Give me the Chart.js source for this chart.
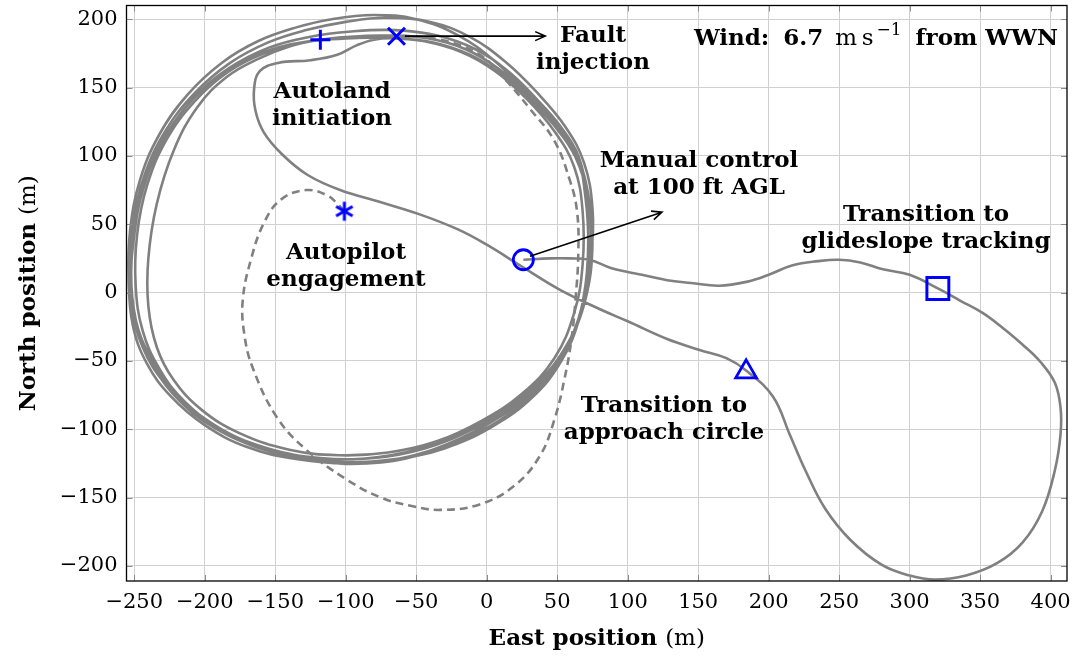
<!DOCTYPE html>
<html>
<head>
<meta charset="utf-8">
<title>Autoland flight track</title>
<script src="https://cdn.jsdelivr.net/npm/chart.js@4.4.1/dist/chart.umd.min.js"></script>
<style>
    html, body { margin: 0; padding: 0; background: #fff; }
    #wrap { width: 1078px; height: 656px; position: relative; }
</style>
</head>
<body>
<div id="wrap"><canvas id="trackChart"></canvas></div>
<script>
// ============================================================================
// AUTOLAND FLIGHT TRACK (EAST / NORTH POSITION)
// ============================================================================

// Axis ticks (m)
const xTicks = [-250, -200, -150, -100, -50, 0, 50, 100, 150, 200, 250, 300, 350, 400];
const yTicks = [-200, -150, -100, -50, 0, 50, 100, 150, 200];

// Track flown under autopilot before the fault (dashed)
const preFaultPath = [
    [-101, 59.5], [-106, 65], [-113, 71], [-128, 75], [-146, 68], [-158, 51], [-167, 25],
    [-173, -5], [-172, -30], [-166, -55], [-149, -91], [-128, -115], [-99, -137], [-75, -150],
    [-54, -156], [-33, -159], [-5, -155], [20, -141], [38, -119], [48, -93], [55, -64],
    [60, -35], [63, -5], [65, 30], [64, 60], [59, 82], [48, 111], [31, 134], [13, 156],
    [-5, 174], [-33, 185], [-62, 188]
];

// Loiter laps after fault injection
const faultLap = [
    [-64, 187.5], [-95, 186], [-125, 184], [-152, 178], [-178, 166], [-202, 148], [-222, 124],
    [-238, 94], [-248, 60], [-253, 25], [-252, -8], [-244, -40], [-228, -67], [-206, -89],
    [-178, -107], [-142, -119], [-104, -124], [-66, -122], [-30, -114], [4, -98], [32, -77],
    [53, -50], [66, -18], [72, 15]
];
const lap1 = [
    [74, 45], [72, 72], [64, 100], [49, 124], [28, 147], [5, 170], [-20, 188], [-50, 200],
    [-80, 203], [-110, 200], [-135, 194], [-162, 184], [-188, 168], [-212, 145], [-232, 116],
    [-246, 82], [-253, 45], [-254, 10], [-251, -24], [-241, -52], [-224, -76], [-200, -97],
    [-170, -113], [-134, -122], [-98, -125], [-60, -121], [-26, -110], [6, -93], [34, -71],
    [55, -43], [68, -10]
];
const lap2 = [
    [74, 28], [75, 62], [69, 95], [56, 121], [36, 146], [13, 169], [-12, 187], [-40, 198],
    [-72, 201], [-100, 198], [-128, 192], [-155, 183], [-182, 168], [-207, 146], [-228, 118],
    [-243, 85], [-251, 50], [-253, 15], [-249, -20], [-238, -48], [-220, -74], [-196, -95],
    [-165, -111], [-130, -120], [-95, -122], [-58, -117], [-24, -106], [8, -88], [36, -66],
    [57, -38], [70, -5]
];
const lap3 = [
    [75, 35], [72, 68], [63, 99], [48, 122], [30, 142], [10, 160], [-12, 174], [-38, 183],
    [-68, 186], [-100, 186], [-130, 183], [-158, 175], [-184, 161], [-207, 140], [-227, 112],
    [-241, 78], [-248, 42], [-249, 5], [-244, -28], [-232, -56], [-214, -80], [-188, -100],
    [-155, -114], [-118, -121], [-80, -121], [-44, -114], [-10, -100], [20, -82], [45, -58],
    [62, -28], [70, 5]
];
const lap4 = [
    [72, 38], [71, 70], [65, 100], [52, 122], [35, 142], [15, 162], [-8, 178], [-35, 188],
    [-65, 192], [-96, 191], [-126, 187], [-155, 179], [-183, 164], [-208, 142], [-229, 112],
    [-243, 78], [-250, 42], [-252, 5], [-247, -28], [-236, -55], [-218, -79], [-193, -99],
    [-160, -114], [-122, -123], [-85, -125], [-48, -119], [-14, -106], [17, -88], [42, -64],
    [60, -35], [69, -2]
];
// Last lap, passing the autoland initiation point
const finalLap = [
    [72, 35], [70, 70], [64, 100], [50, 122], [30, 144], [8, 164], [-15, 178], [-42, 186],
    [-72, 188], [-100, 187], [-118, 185], [-140, 180], [-162, 171], [-184, 158], [-205, 136],
    [-222, 104], [-234, 65], [-240, 25], [-240, -10], [-234, -40], [-222, -64], [-202, -86],
    [-175, -103], [-140, -115], [-105, -119], [-70, -117], [-36, -109], [-4, -94], [25, -74],
    [48, -48], [62, -15], [68, 20], [68, 60], [62, 92], [48, 118], [28, 142], [6, 162],
    [-18, 176], [-45, 184], [-66, 186]
];

// Autoland: hook out of the loiter towards the approach circle
const autolandPath = [
    [-80, 185], [-92, 181], [-106, 174], [-125, 170], [-148, 168], [-161, 162], [-165, 149],
    [-164, 133], [-158, 117], [-145, 101], [-127, 86], [-104, 75], [-75, 66], [-47, 57],
    [-20, 46], [0, 35], [25, 19], [52, 2], [80, -12], [100, -21], [128, -34], [151, -42],
    [170, -48]
];
const approachCircle = [
    [184, -57], [203, -76], [215, -104], [226, -130], [240, -158], [258, -181], [280, -199],
    [300, -207], [318, -210], [340, -207], [362, -198], [380, -183], [394, -160], [403, -130],
    [407, -104], [407, -84], [403, -66], [393, -51], [380, -38], [365, -25], [352, -15],
    [336, -6]
];
const glideslopePath = [
    [320, 3], [300, 13], [281, 17], [265, 22], [250, 24], [235, 23], [217, 20], [200, 13],
    [185, 8], [165, 5], [145, 7], [128, 9], [110, 13], [100, 15], [88, 18], [73, 24],
    [59, 25], [45, 25], [26, 24]
];

// Event markers
const autopilotPoint = [-101, 59.5];
const faultPoint = [-64, 187.5];
const autolandPoint = [-118, 185];
const approachPoint = [184, -58];
const glideslopePoint = [320, 3];
const manualPoint = [26, 24];

// ---------------------------------------------------------------------------

const SERIF = '"DejaVu Serif", "Liberation Serif", serif';
const TRACK_GREY = '#808080';
const MARK_BLUE = '#0000ff';

const toXY = pts => pts.map(p => ({ x: p[0], y: p[1] }));
const solidTrack = [].concat(faultLap, lap1, lap2, lap3, lap4, finalLap,
    autolandPath, approachCircle, glideslopePath);

/**
 * Six-spoke asterisk used for the autopilot engagement marker
 */
function makeAsterisk(size, color) {
    const c = document.createElement('canvas');
    c.width = size;
    c.height = size;
    const g = c.getContext('2d');
    const r = size / 2 - 1.5;
    g.strokeStyle = color;
    g.lineWidth = 3;
    [90, 30, 150].forEach(deg => {
        const a = deg * Math.PI / 180;
        g.beginPath();
        g.moveTo(size / 2 - r * Math.cos(a), size / 2 - r * Math.sin(a));
        g.lineTo(size / 2 + r * Math.cos(a), size / 2 + r * Math.sin(a));
        g.stroke();
    });
    return c;
}

function marker(point, style, radius, width) {
    return {
        data: toXY([point]),
        showLine: false,
        pointStyle: style,
        pointRadius: radius,
        pointBorderWidth: width,
        pointBorderColor: MARK_BLUE,
        pointBackgroundColor: 'rgba(0,0,0,0)',
        order: 0
    };
}

// Annotation text, anchored at data coordinates (centre of the text block)
const notes = [
    { x: 75.4, y: 173.3, lines: ['Fault', 'injection'] },
    { x: -109.7, y: 132.3, lines: ['Autoland', 'initiation'] },
    { x: 150.6, y: 81.9, lines: ['Manual control', 'at 100 ft AGL'] },
    { x: 311.6, y: 42.7, lines: ['Transition to', 'glideslope tracking'] },
    { x: -99.8, y: 14.6, lines: ['Autopilot', 'engagement'] },
    { x: 125.7, y: -97, lines: ['Transition to', 'approach circle'] }
];
const arrows = [
    { from: [-58, 187.6], to: [41.5, 187.6] },
    { from: [30.7, 26.6], to: [124.3, 58.8] }
];

/**
 * Draw runs of text with mixed fonts on baseline y; pad adds space after a run
 */
function drawRuns(ctx, runs, x, y, align) {
    let total = 0;
    runs.forEach(r => {
        ctx.font = r.font;
        r.w = ctx.measureText(r.text).width + (r.pad || 0);
        total += r.w;
    });
    let cx = align === 'right' ? x - total : align === 'center' ? x - total / 2 : x;
    runs.forEach(r => {
        ctx.font = r.font;
        ctx.textAlign = 'left';
        ctx.fillText(r.text, cx, y + (r.dy || 0));
        cx += r.w;
    });
}

function drawArrow(ctx, x0, y0, x1, y1) {
    const ang = Math.atan2(y1 - y0, x1 - x0);
    const len = 11, spread = 0.42;
    ctx.beginPath();
    ctx.moveTo(x0, y0);
    ctx.lineTo(x1, y1);
    ctx.moveTo(x1 - len * Math.cos(ang - spread), y1 - len * Math.sin(ang - spread));
    ctx.lineTo(x1, y1);
    ctx.lineTo(x1 - len * Math.cos(ang + spread), y1 - len * Math.sin(ang + spread));
    ctx.stroke();
}

const overlayPlugin = {
    id: 'overlay',
    afterDraw(chart) {
        const { ctx, chartArea: a, scales: { x, y } } = chart;
        ctx.save();

        // inward tick marks on all four sides
        ctx.strokeStyle = '#8c8c8c';
        ctx.lineWidth = 1;
        ctx.beginPath();
        xTicks.forEach(v => {
            const px = Math.round(x.getPixelForValue(v)) + 0.5;
            ctx.moveTo(px, a.bottom); ctx.lineTo(px, a.bottom - 6);
            ctx.moveTo(px, a.top); ctx.lineTo(px, a.top + 6);
        });
        yTicks.forEach(v => {
            const py = Math.round(y.getPixelForValue(v)) + 0.5;
            ctx.moveTo(a.left, py); ctx.lineTo(a.left + 6, py);
            ctx.moveTo(a.right, py); ctx.lineTo(a.right - 6, py);
        });
        ctx.stroke();

        // frame
        ctx.strokeStyle = '#000';
        ctx.lineWidth = 1.3;
        ctx.strokeRect(a.left, a.top, a.right - a.left, a.bottom - a.top);

        // arrows
        ctx.lineWidth = 1.6;
        arrows.forEach(ar => {
            drawArrow(ctx,
                x.getPixelForValue(ar.from[0]), y.getPixelForValue(ar.from[1]),
                x.getPixelForValue(ar.to[0]), y.getPixelForValue(ar.to[1]));
        });

        // annotations
        ctx.fillStyle = '#000';
        ctx.textBaseline = 'alphabetic';
        const bold = 'bold 23px ' + SERIF;
        const reg = '23px ' + SERIF;
        const lineGap = 27;
        notes.forEach(n => {
            const cx = x.getPixelForValue(n.x);
            const cy = y.getPixelForValue(n.y);
            n.lines.forEach((t, i) => {
                const base = cy - lineGap / 2 + i * lineGap;
                drawRuns(ctx, [{ text: t, font: bold }], cx, base, 'center');
            });
        });

        // wind note
        drawRuns(ctx, [
            { text: 'Wind:', font: bold, pad: 14 },
            { text: '6.7', font: bold, pad: 12 },
            { text: 'm\u2009s', font: reg, pad: 3 },
            { text: '\u22121', font: '17px ' + SERIF, dy: -10, pad: 6 },
            { text: ' from WWN', font: bold }
        ], a.right - 9, 45, 'right');

        // axis titles
        drawRuns(ctx, [
            { text: 'East position ', font: bold },
            { text: '(m)', font: reg }
        ], (a.left + a.right) / 2, 645, 'center');

        ctx.translate(35, (a.top + a.bottom) / 2);
        ctx.rotate(-Math.PI / 2);
        drawRuns(ctx, [
            { text: 'North position ', font: bold },
            { text: '(m)', font: reg }
        ], 0, 0, 'center');

        ctx.restore();
    }
};

const tickLabel = v => (v < 0 ? '\u2212' + Math.abs(v) : String(v));

// drop the extra margins Chart.js reserves for edge tick labels
function noEdgePadding(scale) {
    scale.paddingTop = 0;
    scale.paddingBottom = 0;
    scale.paddingLeft = 0;
    scale.paddingRight = 0;
}

const ctx = document.getElementById('trackChart').getContext('2d');
new Chart(ctx, {
    type: 'scatter',
    data: {
        datasets: [
            marker(autopilotPoint, makeAsterisk(22, MARK_BLUE), 11, 3),
            marker(faultPoint, 'crossRot', 12, 3),
            marker(autolandPoint, 'cross', 10, 3),
            marker(approachPoint, 'triangle', 12, 2.8),
            marker(glideslopePoint, 'rect', 15.5, 3),
            marker(manualPoint, 'circle', 10, 2.8),
            {
                data: toXY(solidTrack),
                showLine: true,
                borderColor: TRACK_GREY,
                borderWidth: 2.6,
                pointRadius: 0,
                tension: 0.4,
                order: 1
            },
            {
                data: toXY(preFaultPath),
                showLine: true,
                borderColor: TRACK_GREY,
                borderWidth: 2.6,
                borderDash: [8, 5],
                pointRadius: 0,
                tension: 0.4,
                order: 1
            }
        ]
    },
    options: {
        responsive: true,
        maintainAspectRatio: false,
        animation: false,
        layout: { autoPadding: false, padding: { top: 5.5, right: 11, left: 0, bottom: 0 } },
        plugins: {
            legend: { display: false },
            tooltip: { enabled: false }
        },
        scales: {
            x: {
                type: 'linear',
                min: -255.5,
                max: 411.6,
                afterBuildTicks: scale => { scale.ticks = xTicks.map(v => ({ value: v })); },
                afterFit: scale => { scale.height = 75; noEdgePadding(scale); },
                grid: { color: '#d0d0d0', lineWidth: 1, drawTicks: false },
                border: { display: false },
                ticks: {
                    color: '#000',
                    padding: 9,
                    maxRotation: 0,
                    font: { family: SERIF, size: 21 },
                    callback: tickLabel
                }
            },
            y: {
                type: 'linear',
                min: -211,
                max: 210,
                afterBuildTicks: scale => { scale.ticks = yTicks.map(v => ({ value: v })); },
                afterFit: scale => { scale.width = 126.5; noEdgePadding(scale); },
                grid: { color: '#d0d0d0', lineWidth: 1, drawTicks: false },
                border: { display: false },
                ticks: {
                    color: '#000',
                    padding: 9,
                    font: { family: SERIF, size: 21 },
                    callback: tickLabel
                }
            }
        }
    },
    plugins: [overlayPlugin]
});
</script>
</body>
</html>
